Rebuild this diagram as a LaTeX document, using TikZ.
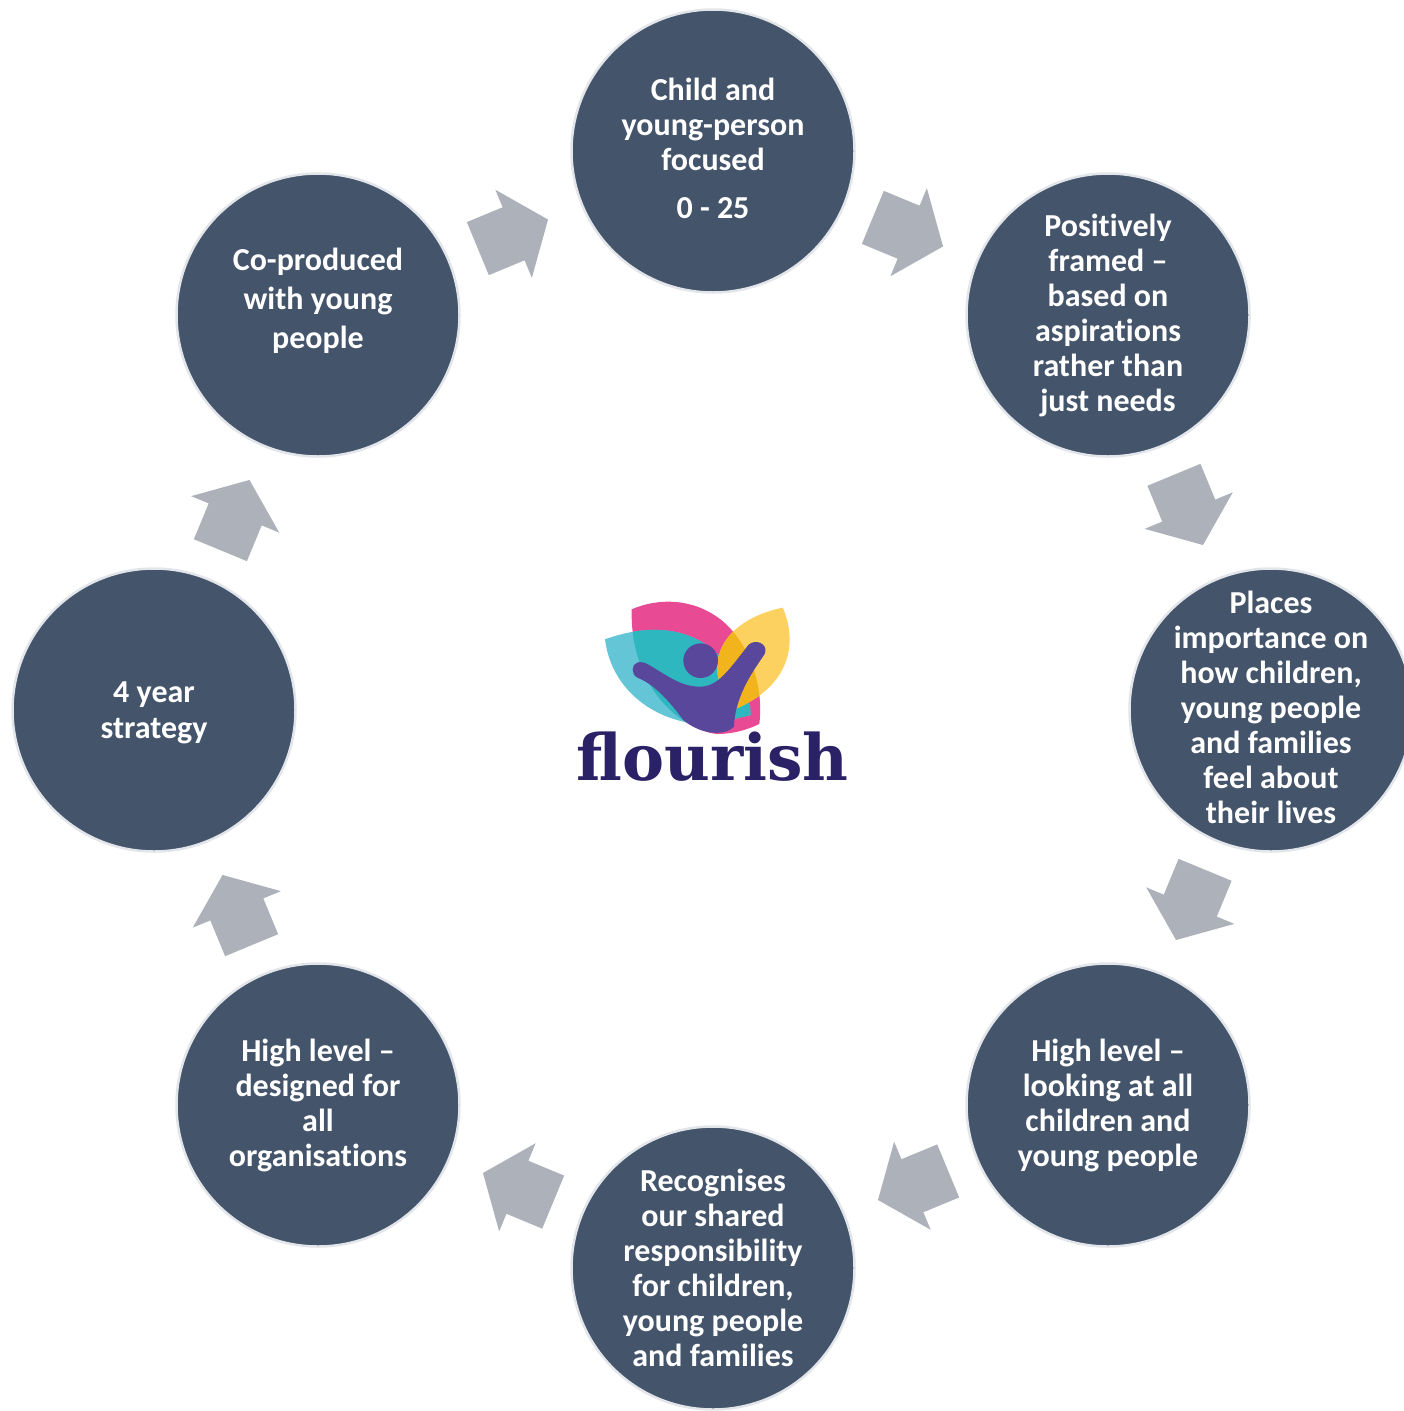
\documentclass[tikz,border=0pt]{standalone}
\usepackage{fontspec}
\setmainfont[RawFeature={-liga}]{Carlito}
\newfontfamily\logofont{DejaVu Serif}
\usetikzlibrary{shapes.arrows,calc}
\definecolor{disc}{HTML}{44546A}
\definecolor{discedge}{HTML}{E2E5E9}
\definecolor{arrowgrey}{HTML}{ADB1B9}
\definecolor{lgpink}{HTML}{E94A94}
\definecolor{lgteal}{HTML}{63C5D5}
\definecolor{lgteald}{HTML}{2FB7BF}
\definecolor{lgyel}{HTML}{FDD15F}
\definecolor{lgyeld}{HTML}{F1B41C}
\definecolor{lgperson}{HTML}{58479B}
\definecolor{lgnavy}{HTML}{2B2166}
\tikzset{
  disc node/.style={circle,draw=discedge,line width=2.5pt,fill=disc,minimum size=283pt,inner sep=-30pt,
    text=white,align=center,font=\bfseries\fontsize{32}{35}\selectfont},
  flow arrow/.style={single arrow,draw=none,fill=arrowgrey,minimum height=76pt,
    single arrow head extend=19pt,single arrow tip angle=104,inner xsep=0pt,inner ysep=28.5pt,anchor=center}
}
\newcommand{\pinkleaf}{(215,88) .. controls (290,55) and (400,50) .. (490,125) .. controls (570,195) and (612,320) .. (598,432) .. controls (560,450) and (520,462) .. (470,462) .. controls (370,450) and (210,330) .. (215,88) -- cycle}
\newcommand{\tealleaf}{(135,178) .. controls (240,140) and (350,135) .. (440,195) .. controls (500,240) and (550,310) .. (570,378) -- (572,405) -- (530,415) .. controls (480,435) and (420,440) .. (370,425) .. controls (240,395) and (150,300) .. (135,178) -- cycle}
\newcommand{\yelleaf}{(668,83) .. controls (708,170) and (705,310) .. (530,385) .. controls (470,330) and (445,240) .. (510,165) .. controls (550,120) and (610,95) .. (668,83) -- cycle}
\begin{document}
\begin{tikzpicture}[x=1pt,y=-1pt]
\useasboundingbox (0,0) rectangle (1404,1411);
\node[disc node] (c1) at (713,151) {Child and\\young-person\\focused\\[13pt]0 - 25\rule[-6pt]{0pt}{0pt}};
\node[disc node] (c2) at (1108,315) {Positively\\framed --\\based on\\aspirations\\rather than\\just needs};
\node[disc node] (c3) at (1271,710) {Places\\importance on\\how children,\\young people\\and families\\feel about\\their lives\rule[-5pt]{0pt}{0pt}};
\node[disc node] (c4) at (1108,1105) {High level --\\looking at all\\children and\\young people};
\node[disc node] (c5) at (713,1268) {Recognises\\our shared\\responsibility\\for children,\\young people\\and families};
\node[disc node] (c6) at (318,1105) {High level --\\designed for\\all\\organisations};
\node[disc node,font=\bfseries\fontsize{32}{36}\selectfont] (c7) at (154,710) {\rule{0pt}{27pt}4 year\\strategy};
\node[disc node,font=\bfseries\fontsize{32}{39}\selectfont] (c8) at (318,315) {Co-produced\\with young\\people\\[-6pt]\mbox{}};
\node[flow arrow,rotate=-22.5] (a12) at ($(c1)!0.5!(c2)!14pt!(c1)$) {};
\node[flow arrow,rotate=-67.5] (a23) at ($(c2)!0.5!(c3)!14pt!(c2)$) {};
\node[flow arrow,rotate=-112.5] (a34) at ($(c3)!0.5!(c4)!14pt!(c3)$) {};
\node[flow arrow,rotate=-157.5] (a45) at ($(c4)!0.5!(c5)!14pt!(c4)$) {};
\node[flow arrow,rotate=157.5] (a56) at ($(c5)!0.5!(c6)!14pt!(c5)$) {};
\node[flow arrow,rotate=112.5] (a67) at ($(c6)!0.5!(c7)!14pt!(c6)$) {};
\node[flow arrow,rotate=67.5] (a78) at ($(c7)!0.5!(c8)!14pt!(c7)$) {};
\node[flow arrow,rotate=22.5] (a81) at ($(c8)!0.5!(c1)!14pt!(c8)$) {};
% logo
\begin{scope}[shift={(560,580)},x=0.3333pt,y=-0.3333pt]
\fill[lgpink] \pinkleaf;
\fill[lgteal] \tealleaf;
\begin{scope}\clip \pinkleaf; \fill[lgteald] \tealleaf; \end{scope}
\fill[lgyel] \yelleaf;
\begin{scope}\clip \pinkleaf; \fill[lgyeld] \yelleaf; \end{scope}
\fill[lgperson] (422,242) circle[radius=52];
\fill[lgperson] (218,268) .. controls (218,248) and (240,240) .. (262,252) .. controls (320,285) and (360,320) .. (420,320) .. controls (470,320) and (500,280) .. (565,195) .. controls (585,175) and (625,190) .. (615,220) .. controls (590,260) and (525,340) .. (522,440) .. controls (500,465) and (430,470) .. (370,420) .. controls (340,380) and (290,315) .. (232,293) .. controls (222,288) and (218,278) .. (218,268) -- cycle;
\end{scope}
\node[text=lgnavy,font=\logofont\bfseries\fontsize{64}{64}\selectfont,xscale=0.985,inner sep=0pt,anchor=base] (logo) at (712.5,780) {flourish};
\end{tikzpicture}
\end{document}
